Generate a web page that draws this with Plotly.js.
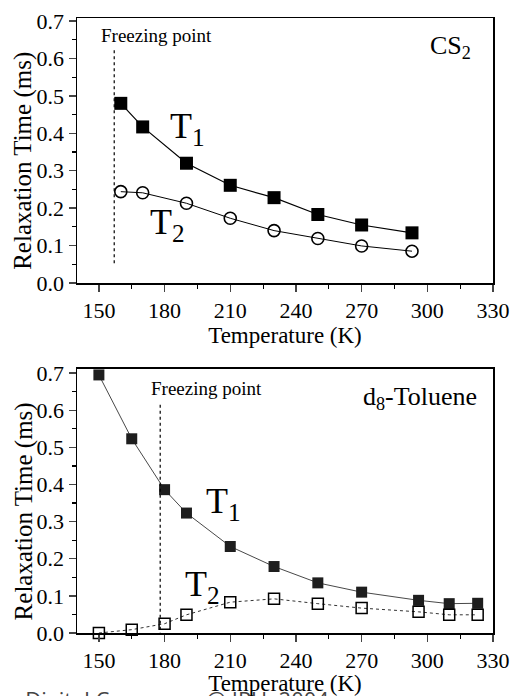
<!DOCTYPE html>
<html><head><meta charset="utf-8">
<script src="https://cdn.plot.ly/plotly-3.0.1.min.js"></script>
<style>html,body{margin:0;padding:0;background:#fff}#chart{width:512px;height:696px}</style>
</head><body><div id="chart"></div><script>
// ---- data ----
const tempCS2 = [160, 170, 190, 210, 230, 250, 270, 293];
const t1CS2   = [0.480, 0.417, 0.320, 0.261, 0.228, 0.183, 0.155, 0.134];
const t2CS2   = [0.244, 0.241, 0.213, 0.173, 0.140, 0.119, 0.099, 0.085];
const tempTol = [150, 165, 180, 190, 210, 230, 250, 270, 296, 310, 323];
const t1Tol   = [0.695, 0.523, 0.386, 0.323, 0.233, 0.179, 0.135, 0.110, 0.088, 0.079, 0.080];
const t2Tol   = [0.000, 0.009, 0.025, 0.049, 0.083, 0.092, 0.079, 0.067, 0.057, 0.049, 0.049];
const freezeCS2 = 157;
const freezeTol = 178;
const xTickVals = [150, 180, 210, 240, 270, 300, 330];
const yTickVals = [0, 0.1, 0.2, 0.3, 0.4, 0.5, 0.6, 0.7];
const yTickText = ["0.0", "0.1", "0.2", "0.3", "0.4", "0.5", "0.6", "0.7"];
const xTitle = "Temperature (K)";
const yTitle = "Relaxation Time (ms)";

const serif = "Liberation Serif, Times New Roman, serif";

const traces = [
  {x: tempCS2, y: t1CS2, xaxis: 'x', yaxis: 'y', mode: 'lines+markers', cliponaxis: false,
   line: {color: '#000', width: 1.2},
   marker: {symbol: 'square', size: 13, color: '#000'}},
  {x: tempCS2, y: t2CS2, xaxis: 'x', yaxis: 'y', mode: 'lines+markers', cliponaxis: false,
   line: {color: '#000', width: 1},
   marker: {symbol: 'circle-open', size: 12, color: '#000', line: {width: 1.6}}},
  {x: [freezeCS2, freezeCS2], y: [0.622, 0.053], xaxis: 'x', yaxis: 'y', mode: 'lines',
   line: {color: '#000', width: 1.2, dash: 'dot'}},
  {x: tempTol, y: t1Tol, xaxis: 'x2', yaxis: 'y2', mode: 'lines+markers', cliponaxis: false,
   line: {color: '#333', width: 0.9},
   marker: {symbol: 'square', size: 11, color: '#1e1e1e'}},
  {x: tempTol, y: t2Tol, xaxis: 'x2', yaxis: 'y2', mode: 'lines+markers', cliponaxis: false,
   line: {color: '#333', width: 1, dash: 'dot'},
   marker: {symbol: 'square-open', size: 11, color: '#000', line: {width: 1.5}}},
  {x: [freezeTol, freezeTol], y: [0.615, 0], xaxis: 'x2', yaxis: 'y2', mode: 'lines',
   line: {color: '#000', width: 1.2, dash: 'dot'}}
];

function xa(anchor) {
  return {anchor: anchor, range: [140, 330], tickvals: xTickVals, ticks: 'outside', ticklen: 7, tickwidth: 1.3,
    minor: {dtick: 15, tick0: 150, ticks: 'outside', ticklen: 4, tickwidth: 1.2, tickcolor: '#000'},
    showline: true, mirror: true, linecolor: '#000', linewidth: 1.5, showgrid: false, zeroline: false,
    tickfont: {family: serif, size: 22, color: '#000'},
    title: {text: xTitle, font: {family: serif, size: 23, color: '#000'}, standoff: 0}};
}
function ya(anchor, dom, top) {
  return {anchor: anchor, domain: dom, range: [0, top], tickvals: yTickVals, ticktext: yTickText,
    ticks: 'outside', ticklen: 7, tickwidth: 1.3,
    minor: {dtick: 0.05, tick0: 0, ticks: 'outside', ticklen: 4, tickwidth: 1.2, tickcolor: '#000'},
    showline: true, mirror: true, linecolor: '#000', linewidth: 1.5, showgrid: false, zeroline: false,
    tickfont: {family: serif, size: 22, color: '#000'}};
}

const ann = (xr, yr, x, y, text, size, xanchor, extra) => Object.assign({
  xref: xr, yref: yr, x: x, y: y, xanchor: xanchor || 'left', yanchor: 'middle', showarrow: false,
  text: text, font: {family: serif, size: size, color: '#000'}}, extra || {});

const layout = {
  width: 512, height: 696, showlegend: false,
  paper_bgcolor: '#fff', plot_bgcolor: '#fff',
  margin: {l: 77, r: 19, t: 18, b: 63},
  xaxis: xa('y'), yaxis: ya('x', [0.5691, 1], 0.708),
  xaxis2: xa('y2'), yaxis2: ya('x2', [0, 0.4293], 0.711),
  annotations: [
    ann('paper', 'paper', -0.1285, 0.767, yTitle, 25, 'center', {textangle: -90}),
    ann('paper', 'paper', -0.1285, 0.197, yTitle, 25, 'center', {textangle: -90}),
    ann('x', 'y', 150, 0.66, 'Freezing point', 19),
    ann('x', 'y', 321, 0.63, 'CS<sub>2</sub>', 26, 'right'),
    ann('x', 'y', 181.5, 0.413, 'T<sub>1</sub>', 36),
    ann('x', 'y', 172.4, 0.155, 'T<sub>2</sub>', 36),
    ann('x2', 'y2', 173, 0.658, 'Freezing point', 19),
    ann('x2', 'y2', 323.6, 0.634, 'd<sub>8</sub>-Toluene', 26, 'right'),
    ann('x2', 'y2', 198.2, 0.348, 'T<sub>1</sub>', 36),
    ann('x2', 'y2', 188.2, 0.125, 'T<sub>2</sub>', 36),
    {xref: 'paper', yref: 'paper', x: -0.202, y: -0.0797, xanchor: 'left', yanchor: 'top', showarrow: false,
     text: 'by Digital Commons @ IPU, 2004', font: {family: 'Open Sans, sans-serif', size: 22, color: '#444'}}
  ]
};

Plotly.newPlot('chart', traces, layout, {staticPlot: true, displayModeBar: false});
</script></body></html>
